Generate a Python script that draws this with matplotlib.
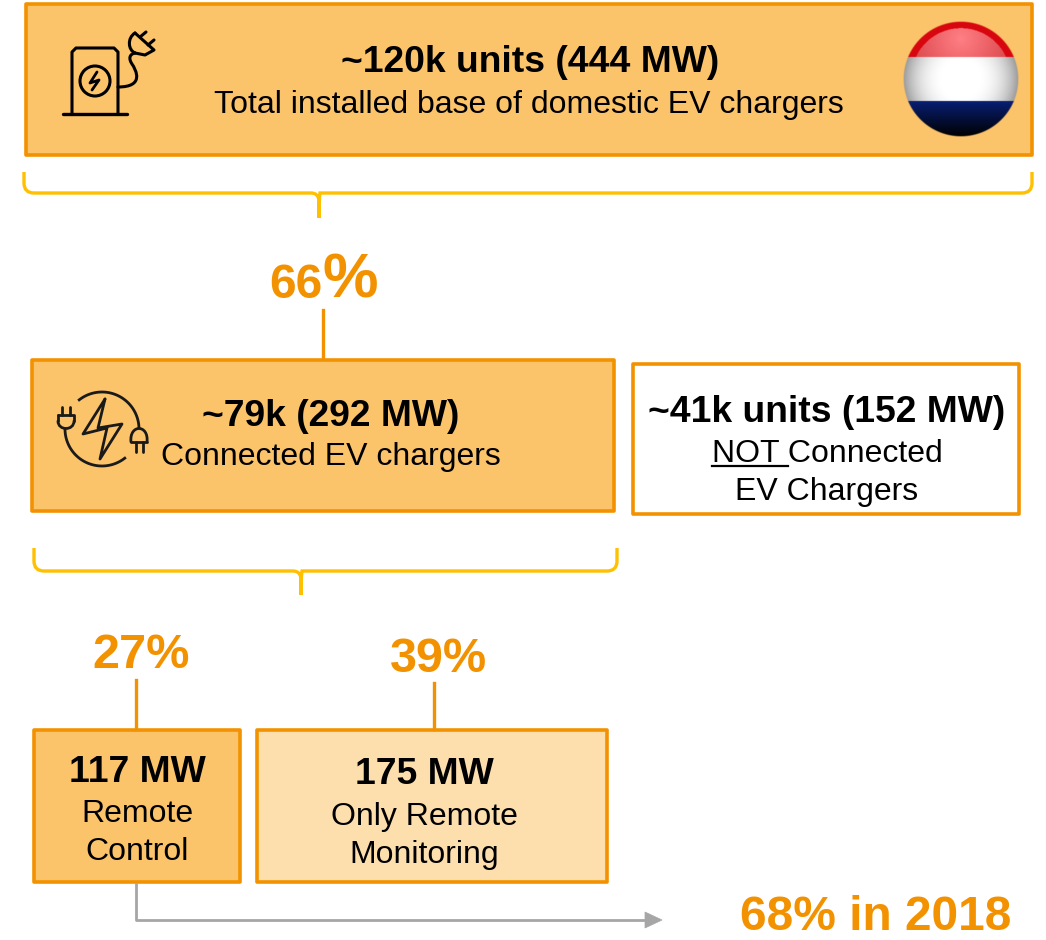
import matplotlib
matplotlib.use('Agg')
import matplotlib.pyplot as plt
import numpy as np
from matplotlib.patches import Circle, PathPatch, Polygon, Rectangle
from matplotlib.path import Path

plt.rcParams['font.family'] = ['Liberation Sans', 'DejaVu Sans']

ORANGE = '#F39200'
FILL = '#FBC36A'
LIGHT = '#FDDFAE'
YELLOW = '#FFC000'
GREY = '#A6A6A6'
ICON = '#1a1a1a'

# boxes: x0, y0, x1, y1, face
boxes = [
    (26, 4, 1032, 155, FILL),
    (32, 360, 614, 511, FILL),
    (633, 364, 1019, 514, 'white'),
    (34, 730, 240, 882, FILL),
    (257, 730, 607, 882, LIGHT),
]

# text: x, y, string, size, bold
labels = [
    (530, 63, '~120k units (444 MW)', 26.8, True),
    (529, 105, 'Total installed base of domestic EV chargers', 23, False),
    (331, 416, '~79k (292 MW)', 26.8, True),
    (331, 457, 'Connected EV chargers', 23, False),
    (827, 412, '~41k units (152 MW)', 26.8, True),
    (827, 454, 'NOT Connected', 23, False),
    (827, 492, 'EV Chargers', 23, False),
    (137, 772, '117 MW', 26.8, True),
    (137, 814, 'Remote', 23, False),
    (137, 852, 'Control', 23, False),
    (424, 775, '175 MW', 26.8, True),
    (424, 817, 'Only Remote', 23, False),
    (424, 855, 'Monitoring', 23, False),
]

percents = [
    (141, 656, '27%', 35),
    (438, 660, '39%', 35),
    (876, 917, '68% in 2018', 34.5),
]

connectors = [
    (323, 310, 358),
    (136, 680, 729),
    (434, 683, 729),
]

fig = plt.figure(figsize=(10.46, 9.40), dpi=100)
ax = fig.add_axes([0, 0, 1, 1])
ax.set_xlim(0, 1046)
ax.set_ylim(940, 0)
ax.axis('off')


def stroke(pts, color='black', lw=2.2, **kw):
    pts = np.array(pts, dtype=float)
    ax.plot(pts[:, 0], pts[:, 1], color=color, lw=lw, solid_capstyle='round',
            solid_joinstyle='round', **kw)


def curve(pts, color='black', lw=2.2):
    # cubic bezier through control points
    codes = [Path.MOVETO] + [Path.CURVE4] * (len(pts) - 1)
    ax.add_patch(PathPatch(Path(pts, codes), fc='none', ec=color, lw=lw, capstyle='round'))


def bracket(x0, x1, y0, y1, xm, tip):
    r = 10
    verts = [(x0, y0), (x0, y1 - r), (x0, y1), (x0 + r, y1), (xm - 8, y1), (xm - 1, y1), (xm, y1 + 7), (xm, tip),
             (xm, y1 + 7), (xm + 1, y1), (xm + 8, y1), (x1 - r, y1), (x1, y1), (x1, y1 - r), (x1, y0)]
    codes = [Path.MOVETO, Path.LINETO, Path.CURVE3, Path.CURVE3, Path.LINETO, Path.CURVE3, Path.CURVE3, Path.LINETO,
             Path.CURVE3, Path.CURVE3, Path.LINETO, Path.LINETO, Path.CURVE3, Path.CURVE3, Path.LINETO]
    ax.add_patch(PathPatch(Path(verts, codes), fc='none', ec=YELLOW, lw=2.4))


for x0, y0, x1, y1, face in boxes:
    ax.add_patch(Rectangle((x0, y0), x1 - x0, y1 - y0, fc=face, ec=ORANGE, lw=2.6, joinstyle='round'))

for x, y0, y1 in connectors:
    ax.plot([x, x], [y0, y1], color=ORANGE, lw=2.4)

bracket(24, 1032, 172, 193, 319, 218)
bracket(34, 617, 548, 571, 301, 595)

for x, y, s, size, bold in labels:
    ax.text(x, y, s, fontsize=size, fontweight='bold' if bold else 'normal', color='black',
            ha='center', va='center')

ax.plot([712, 788], [466, 466], color='black', lw=1.6)

for x, y, s, size in percents:
    ax.text(x, y, s, fontsize=size, fontweight='bold', color=ORANGE, ha='center', va='center')
ax.text(296, 285, '66', fontsize=34.5, fontweight='bold', color=ORANGE, ha='center', va='center')
ax.text(323, 297, '%', fontsize=45, fontweight='bold', color=ORANGE, ha='left', va='baseline')

# grey arrow out of the remote control box
ax.plot([136, 136, 648], [884, 920, 920], color=GREY, lw=2)
ax.add_patch(Polygon([(645, 912), (662, 920), (645, 928)], fc=GREY, ec=GREY, lw=0.5))

# charger icon
stroke([(63, 114), (127, 114)], lw=2.4)
stroke([(72, 114), (72, 52), (76, 48), (114, 48), (118, 52), (118, 114)])
ax.add_patch(Circle((95, 81), 15, fc='none', ec='black', lw=2.2))
stroke([(97, 72), (90, 83), (99, 80), (92, 90)], lw=2)
curve([(118, 87), (145, 87), (136, 70), (132, 64), (128, 58), (130, 54), (135, 53)])
curve([(135, 33), (127, 38), (128, 50), (135, 53)])
stroke([(135, 53), (145, 55), (154, 50), (135, 33)])
stroke([(140, 37), (146, 32)])
stroke([(148, 45), (154, 40)])

# connected icon
t = np.radians(np.linspace(-128, -3, 40))
ax.plot(102 + 37 * np.cos(t), 429 + 37 * np.sin(t), color=ICON, lw=2)
t = np.radians(np.linspace(52, 178, 40))
ax.plot(102 + 37 * np.cos(t), 429 + 37 * np.sin(t), color=ICON, lw=2)
stroke([(105, 399), (83, 434), (107, 428), (100, 459), (122, 424), (98, 428), (105, 399)], color=ICON, lw=2)
stroke([(62, 407), (62, 415)], color=ICON, lw=2)
stroke([(70, 407), (70, 415)], color=ICON, lw=2)
stroke([(58, 415), (74, 415), (74, 421)], color=ICON, lw=2)
curve([(74, 421), (74, 431), (58, 431), (58, 421)], color=ICON, lw=2)
stroke([(58, 421), (58, 415)], color=ICON, lw=2)
curve([(131, 442), (129, 424), (149, 424), (147, 442)], color=ICON, lw=2)
stroke([(131, 442), (147, 442)], color=ICON, lw=2)
stroke([(136, 442), (136, 452)], color=ICON, lw=2)
stroke([(143, 442), (143, 452)], color=ICON, lw=2)

# flag ball
n = 232
yy, xx = np.mgrid[-1:1:n * 1j, -1:1:n * 1j]
rr = np.sqrt(xx ** 2 + yy ** 2)
img = np.zeros((n, n, 4))
red = yy < -0.38
white = (yy >= -0.38) & (yy < 0.38)
blue = yy >= 0.38
img[red, :3] = [0.85, 0.03, 0.06]
img[white, :3] = [1, 1, 1]
img[blue, :3] = [0.03, 0.12, 0.45]
# white band: bright centre falling to grey at the sides
img[white, :3] *= np.clip(1.02 - 0.42 * rr[white] ** 3, 0, 1)[:, None]
# dark fade at the bottom, soft highlight in the red cap
img[blue, :3] *= np.clip(1 - 1.0 * (yy[blue] - 0.38) / 0.62, 0.03, 1)[:, None]
cap = red & (np.sqrt(xx ** 2 + (yy + 0.02) ** 2) < 0.86)
glow = np.clip(1 - np.sqrt(xx ** 2 + (yy + 0.7) ** 2) / 0.9, 0, 1)
img[cap, 0] = 0.86 + 0.14 * glow[cap]
img[cap, 1] = 0.28 + 0.22 * glow[cap]
img[cap, 2] = 0.3 + 0.22 * glow[cap]
img[..., 3] = np.clip((1 - rr) * 60, 0, 1)
ax.imshow(img, extent=(903, 1019, 137, 21), zorder=3, interpolation='bilinear', aspect='auto')
ax.set_xlim(0, 1046)
ax.set_ylim(940, 0)

fig.savefig('out.png', dpi=100, facecolor='white')
